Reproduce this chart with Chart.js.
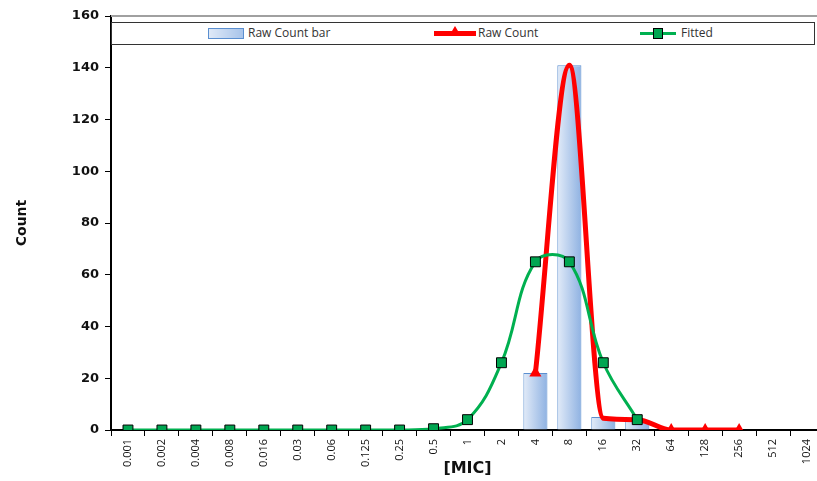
<!DOCTYPE html>
<html>
<head>
<meta charset="utf-8">
<script src="https://cdn.jsdelivr.net/npm/chart.js@4"></script>
<style>
  body { margin:0; overflow:hidden; background:#fff; }
  #wrap { position:relative; width:832px; height:481px; }
  #legend { position:absolute; left:111px; top:22px; width:702px; height:21px; border:1px solid #333; background:#fff;
    font-family:"Open Sans", sans-serif; font-size:12px; color:#333; }
  .lg { position:absolute; top:2px; line-height:16px; }
  .sym { position:absolute; }
</style>
</head>
<body>
<div id="wrap">
  <canvas id="c" width="832" height="481"></canvas>
  <div id="legend">
    <div class="sym" style="left:96px;top:5px;width:34px;height:9px;border:1px solid #5b8fd0;background:linear-gradient(90deg,#dfe9f7,#a8c4ea)"></div>
    <div class="lg" style="left:136px">Raw Count bar</div>
    <div class="sym" style="left:322px;top:8px;width:42px;height:5px;background:#ff0000"></div>
    <div class="sym" style="left:337px;top:3px;width:0;height:0;border-left:6px solid transparent;border-right:6px solid transparent;border-bottom:10px solid #ff0000"></div>
    <div class="lg" style="left:366px">Raw Count</div>
    <div class="sym" style="left:528px;top:9px;width:36px;height:3px;background:#00b050"></div>
    <div class="sym" style="left:541px;top:5px;width:8px;height:9px;border:1px solid #000;background:#00a651"></div>
    <div class="lg" style="left:569px">Fitted</div>
  </div>
</div>
<script>
// ── DADOS ──────────────────────────────────────
const micLabels = ['0.001','0.002','0.004','0.008','0.016','0.03','0.06','0.125','0.25','0.5',
                   '1','2','4','8','16','32','64','128','256','512','1024'];
const rawBar   = [null,null,null,null,null,null,null,null,null,null,null,null,22,141,5,4,null,null,null,null,null];
const rawCount = [null,null,null,null,null,null,null,null,null,null,null,null,22,141,4.5,4,0,0,0,null,null];
const fitted   = [0,0,0,0,0,0,0,0,0,0.5,4,26,65,65,26,4,null,null,null,null,null];
const yTicks   = [0,20,40,60,80,100,120,140,160];

// triângulos só visíveis no início e na cauda
const rawPointR = rawCount.map((v, i) => (i === 12 || i >= 16) ? 7 : 0);

// gradiente horizontal em cada barra
function barGradient(ctx) {
  const chart = ctx.chart;
  const xs = chart.scales.x;
  const px = xs ? xs.getPixelForValue(ctx.dataIndex) : NaN;
  if (!isFinite(px)) return '#bcd2ef';
  const g = chart.ctx.createLinearGradient(px - 12, 0, px + 12, 0);
  g.addColorStop(0, '#e2ebf8');
  g.addColorStop(1, '#8fb2e2');
  return g;
}

// linha cinza no topo da área do gráfico
const topLine = {
  id: 'topLine',
  afterDraw(chart) {
    const { ctx, chartArea } = chart;
    ctx.save();
    ctx.strokeStyle = '#a0a0a0';
    ctx.lineWidth = 2;
    ctx.beginPath();
    ctx.moveTo(chartArea.left, chartArea.top);
    ctx.lineTo(chartArea.right, chartArea.top);
    ctx.stroke();
    ctx.restore();
  }
};

new Chart(document.getElementById('c'), {
  data: {
    labels: micLabels,
    datasets: [
      {
        type: 'line', label: 'Fitted', data: fitted, order: 1,
        borderColor: '#00b050', borderWidth: 3, tension: 0.4,
        pointStyle: 'rect', pointRadius: 7, pointBackgroundColor: '#00a651',
        pointBorderColor: '#000', pointBorderWidth: 1, spanGaps: false
      },
      {
        type: 'line', label: 'Raw Count', data: rawCount, order: 2,
        borderColor: '#ff0000', borderWidth: 5, cubicInterpolationMode: 'monotone',
        pointStyle: 'triangle', pointRadius: rawPointR, pointBackgroundColor: '#ff0000',
        pointBorderColor: '#ff0000', pointBorderWidth: 0
      },
      {
        type: 'bar', label: 'Raw Count bar', data: rawBar, order: 3,
        backgroundColor: barGradient, borderColor: '#5b8fd0', borderWidth: 1,
        categoryPercentage: 1, barPercentage: 0.71
      }
    ]
  },
  options: {
    responsive: false,
    animation: false,
    layout: { padding: { top: 16, left: 0, right: 0, bottom: 0 } },
    plugins: { legend: { display: false }, tooltip: { enabled: false } },
    scales: {
      x: {
        offset: true,
        grid: { offset: true, drawOnChartArea: false, color: '#000', tickLength: 6, tickWidth: 1 },
        border: { color: '#000', width: 2 },
        ticks: { minRotation: 90, maxRotation: 90, autoSkip: false, padding: 3, color: '#111',
                 font: { family: 'Open Sans', size: 11 } },
        title: { display: true, text: '[MIC]', color: '#111', padding: { top: 0, bottom: 3 },
                 font: { family: 'DejaVu Sans', size: 16, weight: 'bold' } },
        afterFit: s => { s.height = 51; s.paddingLeft = 0; s.paddingRight = 0; }
      },
      y: {
        min: 0, max: 160,
        afterBuildTicks: s => { s.ticks = yTicks.map(v => ({ value: v })); },
        grid: { drawOnChartArea: false, color: '#000', tickLength: 6 },
        border: { color: '#000', width: 2 },
        ticks: { padding: 6, color: '#111', font: { family: 'DejaVu Sans', size: 13, weight: 'bold' } },
        title: { display: true, text: 'Count', color: '#111', padding: { top: 14, bottom: 0 },
                 font: { family: 'DejaVu Sans', size: 14, weight: 'bold' } },
        afterFit: s => { s.width = 111; }
      }
    }
  },
  plugins: [topLine]
});
</script>
</body>
</html>
